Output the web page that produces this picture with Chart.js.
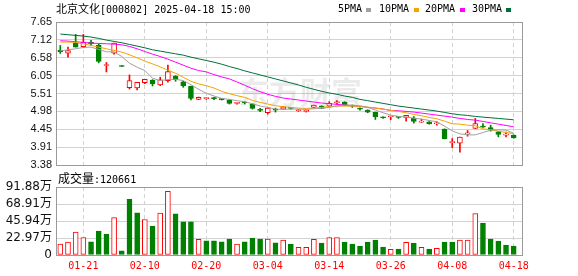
<!DOCTYPE html>
<html>
<head>
<meta charset="utf-8">
<title>北京文化 K线</title>
<script src="https://cdn.jsdelivr.net/npm/chart.js@4.4.1/dist/chart.umd.min.js"></script>
<style>
    html, body { margin: 0; padding: 0; background: #fff; }
    #wrap { position: relative; width: 578px; height: 276px; overflow: hidden; }
    #wrap canvas { position: absolute; left: 0; top: 0; }
    .txt { position: absolute; white-space: nowrap; color: #000; line-height: 14px; }
    .mono { font-family: 'DejaVu Sans Mono', monospace; font-size: 10px; }
    .cjk { font-family: 'Noto Sans CJK SC', sans-serif; }
    .sq { position: absolute; width: 5px; height: 4px; }
</style>
</head>
<body>
<div id="wrap">
    <canvas id="priceChart" width="578" height="276"></canvas>
    <canvas id="volumeChart" width="578" height="276"></canvas>

    <div class="txt mono" style="left:56px;top:1px;"><span class="cjk" style="font-size:11px;">北京文化</span>[000802] 2025-04-18 15:00</div>

    <div class="txt mono" style="left:338px;top:2px;">5PMA</div>
    <div class="sq" style="left:366px;top:8px;background:#a0a0a0;"></div>
    <div class="txt mono" style="left:379px;top:2px;">10PMA</div>
    <div class="sq" style="left:414px;top:8px;background:#f5a300;"></div>
    <div class="txt mono" style="left:425px;top:2px;">20PMA</div>
    <div class="sq" style="left:460px;top:8px;background:#ff00ff;"></div>
    <div class="txt mono" style="left:472px;top:2px;">30PMA</div>
    <div class="sq" style="left:506px;top:8px;background:#006f3a;"></div>

    <div class="txt" style="left:58px;top:171px;"><span class="cjk" style="font-size:12px;">成交量</span><span class="mono">:120661</span></div>
</div>

<script>
// trading days shown (MM-DD)
const dates = [
    '01-16', '01-17', '01-20', '01-21', '01-22', '01-23', '01-24', '01-27',
    '02-05', '02-06', '02-07', '02-10', '02-11', '02-12', '02-13', '02-14', '02-17', '02-18', '02-19', '02-20',
    '02-21', '02-24', '02-25', '02-26', '02-27', '02-28',
    '03-03', '03-04', '03-05', '03-06', '03-07', '03-10', '03-11', '03-12', '03-13', '03-14', '03-17', '03-18',
    '03-19', '03-20', '03-21', '03-24', '03-25', '03-26', '03-27', '03-28', '03-31',
    '04-01', '04-02', '04-03', '04-07', '04-08', '04-09', '04-10', '04-11', '04-14', '04-15', '04-16', '04-17', '04-18'
];
const xTickLabels = ['01-21', '02-10', '02-20', '03-04', '03-14', '03-26', '04-08', '04-18'];

// daily prices
const openP = [
    6.81, 6.72, 7.02, 6.91, 7.04, 6.95, 6.35, 6.72, 6.32, 5.69,
    5.68, 5.84, 5.91, 5.77, 5.90, 6.03, 5.86, 5.73, 5.34, 5.36,
    5.38, 5.35, 5.32, 5.22, 5.25, 5.20, 5.04, 4.94, 5.04, 5.05,
    5.09, 5.00, 4.98, 5.10, 5.14, 5.14, 5.24, 5.26, 5.15, 5.07,
    5.02, 4.95, 4.81, 4.82, 4.81, 4.80, 4.78, 4.66, 4.67, 4.61,
    4.45, 4.05, 4.03, 4.31, 4.47, 4.54, 4.50, 4.37, 4.27, 4.27
];
const highP = [
    6.95, 6.90, 7.28, 7.28, 7.10, 7.00, 6.44, 7.02, 6.32, 6.07,
    5.85, 5.94, 5.93, 6.00, 6.36, 6.05, 5.88, 5.74, 5.41, 5.39,
    5.40, 5.36, 5.33, 5.25, 5.27, 5.21, 5.07, 5.09, 5.08, 5.13,
    5.10, 5.04, 5.03, 5.17, 5.15, 5.27, 5.30, 5.27, 5.17, 5.09,
    5.03, 4.96, 4.82, 4.83, 4.82, 4.86, 4.83, 4.75, 4.68, 4.67,
    4.46, 4.17, 4.21, 4.41, 4.77, 4.62, 4.57, 4.38, 4.36, 4.28
];
const lowP = [
    6.71, 6.60, 6.90, 6.88, 6.95, 6.43, 6.16, 6.69, 6.32, 5.65,
    5.62, 5.81, 5.74, 5.75, 5.85, 5.88, 5.70, 5.32, 5.33, 5.34,
    5.33, 5.32, 5.20, 5.20, 5.20, 5.05, 4.97, 4.90, 4.96, 5.04,
    5.05, 4.98, 4.96, 5.08, 5.06, 5.12, 5.20, 5.16, 5.10, 5.02,
    4.94, 4.74, 4.77, 4.73, 4.77, 4.69, 4.63, 4.65, 4.60, 4.57,
    4.16, 3.90, 3.76, 4.24, 4.47, 4.50, 4.39, 4.22, 4.22, 4.18
];
const closeP = [
    6.76, 6.80, 6.90, 7.05, 7.00, 6.47, 6.38, 7.02, 6.32, 5.90,
    5.85, 5.94, 5.80, 5.92, 6.17, 5.93, 5.74, 5.37, 5.40, 5.37,
    5.36, 5.33, 5.22, 5.25, 5.23, 5.07, 5.01, 5.08, 5.02, 5.12,
    5.07, 5.02, 5.00, 5.17, 5.07, 5.22, 5.25, 5.17, 5.14, 5.05,
    4.96, 4.82, 4.79, 4.83, 4.80, 4.86, 4.68, 4.69, 4.61, 4.62,
    4.16, 4.08, 4.21, 4.33, 4.62, 4.51, 4.42, 4.29, 4.28, 4.19
];

// moving averages as drawn
const ma5 = [
    6.79, 6.82, 6.85, 6.89, 6.90, 6.83, 6.76, 6.76, 6.62, 6.42,
    6.30, 6.20, 5.97, 5.90, 5.93, 5.94, 5.90, 5.78, 5.64, 5.52,
    5.44, 5.37, 5.34, 5.30, 5.27, 5.21, 5.14, 5.10, 5.05, 5.04,
    5.05, 5.05, 5.04, 5.06, 5.07, 5.10, 5.14, 5.17, 5.16, 5.15,
    5.10, 5.02, 4.94, 4.87, 4.83, 4.81, 4.78, 4.75, 4.71, 4.67,
    4.54, 4.40, 4.31, 4.28, 4.28, 4.35, 4.42, 4.43, 4.42, 4.33
];
const ma10 = [
    7.05, 7.05, 7.04, 7.00, 6.95, 6.90, 6.85, 6.80, 6.75, 6.67,
    6.58, 6.48, 6.40, 6.31, 6.21, 6.12, 6.00, 5.88, 5.80, 5.75,
    5.68, 5.58, 5.51, 5.45, 5.40, 5.31, 5.25, 5.20, 5.15, 5.12,
    5.10, 5.08, 5.07, 5.08, 5.10, 5.12, 5.14, 5.14, 5.14, 5.13,
    5.11, 5.08, 5.05, 5.01, 4.98, 4.94, 4.89, 4.85, 4.80, 4.76,
    4.69, 4.61, 4.60, 4.57, 4.55, 4.46, 4.43, 4.39, 4.35, 4.32
];
const ma20 = [
    7.09, 7.08, 7.06, 7.04, 7.02, 7.01, 7.00, 6.99, 6.97, 6.92,
    6.85, 6.77, 6.69, 6.62, 6.54, 6.45, 6.36, 6.27, 6.20, 6.16,
    6.08, 6.01, 5.95, 5.86, 5.76, 5.66, 5.57, 5.49, 5.43, 5.38,
    5.35, 5.32, 5.29, 5.26, 5.23, 5.21, 5.19, 5.17, 5.15, 5.13,
    5.10, 5.08, 5.05, 5.01, 5.00, 4.98, 4.96, 4.93, 4.90, 4.87,
    4.84, 4.81, 4.77, 4.74, 4.72, 4.68, 4.64, 4.60, 4.56, 4.52
];
const ma30 = [
    7.29, 7.27, 7.25, 7.23, 7.20, 7.16, 7.11, 7.07, 7.03, 6.98,
    6.93, 6.88, 6.82, 6.78, 6.74, 6.70, 6.66, 6.60, 6.55, 6.50,
    6.45, 6.39, 6.32, 6.26, 6.19, 6.13, 6.07, 6.01, 5.95, 5.89,
    5.83, 5.77, 5.70, 5.64, 5.58, 5.53, 5.49, 5.44, 5.40, 5.34,
    5.30, 5.26, 5.22, 5.18, 5.14, 5.11, 5.08, 5.05, 5.02, 4.99,
    4.95, 4.91, 4.88, 4.86, 4.83, 4.81, 4.79, 4.77, 4.75, 4.73
];

// volume in 万 and its colour (1 = red / up, 0 = green / down)
const volume = [
    14.8, 17.5, 30.9, 23.7, 17.9, 32.3, 28.2, 50.6, 5.8, 75.3,
    56.9, 48.0, 39.0, 56.5, 86.1, 55.6, 44.8, 44.8, 21.1, 19.3,
    19.3, 17.9, 21.5, 14.8, 17.9, 22.9, 21.5, 21.5, 16.6, 20.2,
    14.8, 10.3, 10.3, 21.1, 16.1, 23.7, 23.7, 17.5, 14.8, 12.1,
    17.5, 20.2, 10.8, 7.6, 8.1, 17.0, 16.1, 10.3, 8.1, 9.0,
    17.5, 17.5, 20.2, 20.2, 56.0, 43.0, 21.5, 18.8, 13.4, 12.07
];
const volumeUp = [
    1, 1, 1, 1, 0, 0, 0, 1, 0, 0,
    0, 1, 0, 1, 1, 0, 0, 0, 1, 0,
    0, 0, 0, 1, 0, 0, 0, 1, 0, 1,
    0, 1, 1, 1, 0, 1, 1, 0, 0, 0,
    0, 0, 0, 1, 0, 1, 0, 1, 0, 1,
    0, 0, 1, 1, 1, 0, 0, 0, 0, 0
];

// axis tick labels
const priceTicks = ['3.38', '3.91', '4.45', '4.98', '5.51', '6.05', '6.58', '7.12', '7.65'];
const volumeTicks = ['0', '22.97万', '45.94万', '68.91万', '91.88万'];

document.addEventListener("DOMContentLoaded", () => {
    const RED = '#ff0000';
    const GREEN = '#008000';
    const GRID = '#d2d2d2';
    const X_MIN = -0.56;
    const X_MAX = 60.08;

    const tickIndex = xTickLabels.map(l => dates.indexOf(l));
    const pMin = parseFloat(priceTicks[0]);
    const pMax = parseFloat(priceTicks[priceTicks.length - 1]);
    const vMax = parseFloat(volumeTicks[volumeTicks.length - 1]);

    const candleUp = closeP.map((c, i) => c > openP[i]);

    // grey frame round the plot area
    const framePlugin = {
        id: 'frame',
        afterDraw(chart) {
            const { ctx, chartArea: a } = chart;
            ctx.save();
            ctx.strokeStyle = '#9a9a9a';
            ctx.lineWidth = 1;
            ctx.strokeRect(Math.round(a.left) + 0.5, Math.round(a.top) + 0.5,
                Math.round(a.right - a.left), Math.round(a.bottom - a.top));
            ctx.restore();
        }
    };

    // faint site watermark behind the candles
    const watermarkPlugin = {
        id: 'watermark',
        beforeDatasetsDraw(chart) {
            const ctx = chart.ctx;
            ctx.save();
            ctx.fillStyle = 'rgba(0,0,0,0.08)';
            ctx.font = 'bold 31px "Noto Sans CJK SC"';
            ctx.textAlign = 'center';
            ctx.textBaseline = 'middle';
            ctx.fillText('东方财富', 300, 92);
            ctx.restore();
        }
    };

    function xAxis(showLabels) {
        return {
            type: 'linear',
            min: X_MIN,
            max: X_MAX,
            offset: false,
            afterBuildTicks: s => { s.ticks = tickIndex.map(v => ({ value: v })); },
            afterFit: s => { s.height = showLabels ? 21 : 0; },
            grid: { color: GRID, lineWidth: 1, drawTicks: false, offset: false },
            border: { display: false, dash: [4, 3] },
            ticks: {
                display: showLabels,
                autoSkip: false,
                maxRotation: 0,
                padding: 5,
                color: RED,
                font: { family: 'DejaVu Sans Mono', size: 10 },
                callback: v => dates[v]
            }
        };
    }

    const common = {
        responsive: false,
        animation: false,
        devicePixelRatio: 1,
        events: [],
        plugins: { legend: { display: false }, tooltip: { enabled: false } }
    };

    // price chart: candles + moving averages
    const lineSet = (data, color) => ({
        type: 'line',
        data: data.map((v, i) => ({ x: i, y: v })),
        borderColor: color,
        borderWidth: 1,
        pointRadius: 0,
        tension: 0,
        order: 0
    });

    new Chart(document.getElementById('priceChart').getContext('2d'), {
        type: 'bar',
        data: {
            datasets: [
                lineSet(ma5, '#a0a0a0'),
                lineSet(ma10, '#f5a300'),
                lineSet(ma20, '#ff00ff'),
                lineSet(ma30, '#006f3a'),
                {
                    // candle bodies
                    data: openP.map((o, i) => ({ x: i, y: [o, closeP[i]] })),
                    backgroundColor: candleUp.map(u => u ? '#ffffff' : GREEN),
                    borderColor: candleUp.map(u => u ? RED : GREEN),
                    borderWidth: 1,
                    borderSkipped: false,
                    barThickness: 5,
                    minBarLength: 1,
                    grouped: false,
                    order: 1
                },
                {
                    // wicks
                    data: lowP.map((l, i) => ({ x: i, y: [l, highP[i]] })),
                    backgroundColor: candleUp.map(u => u ? RED : GREEN),
                    borderWidth: 0,
                    barThickness: 1,
                    minBarLength: 1,
                    grouped: false,
                    order: 2
                }
            ]
        },
        options: {
            ...common,
            layout: { padding: { left: 0, top: 22, right: 56, bottom: 111 } },
            scales: {
                x: xAxis(false),
                y: {
                    min: pMin,
                    max: pMax,
                    afterBuildTicks: s => {
                        s.ticks = priceTicks.map((t, k) => ({ value: pMin + k * (pMax - pMin) / (priceTicks.length - 1) }));
                    },
                    afterFit: s => { s.width = 56; },
                    grid: { color: GRID, drawTicks: false },
                    border: { display: false },
                    ticks: {
                        autoSkip: false,
                        padding: 4,
                        color: '#111',
                        font: { family: 'Liberation Sans', size: 11 },
                        callback: (v, i) => priceTicks[i]
                    }
                }
            }
        },
        plugins: [watermarkPlugin, framePlugin]
    });

    // volume chart
    new Chart(document.getElementById('volumeChart').getContext('2d'), {
        type: 'bar',
        data: {
            datasets: [{
                data: volume.map((v, i) => ({ x: i, y: v })),
                backgroundColor: volumeUp.map(u => u ? '#ffffff' : GREEN),
                borderColor: volumeUp.map(u => u ? RED : GREEN),
                borderWidth: 1,
                borderSkipped: false,
                barThickness: 5,
                grouped: false
            }]
        },
        options: {
            ...common,
            layout: { padding: { left: 0, top: 187, right: 56, bottom: 0 } },
            scales: {
                x: xAxis(true),
                y: {
                    min: 0,
                    max: vMax,
                    afterBuildTicks: s => {
                        s.ticks = volumeTicks.map((t, k) => ({ value: k * vMax / (volumeTicks.length - 1) }));
                    },
                    afterFit: s => { s.width = 56; },
                    grid: { color: GRID, drawTicks: false },
                    border: { display: false },
                    ticks: {
                        autoSkip: false,
                        padding: 4,
                        color: '#111',
                        font: { family: "'DejaVu Sans', 'Noto Sans CJK SC'", size: 12 },
                        callback: (v, i) => volumeTicks[i]
                    }
                }
            }
        },
        plugins: [framePlugin]
    });
});
</script>
</body>
</html>
